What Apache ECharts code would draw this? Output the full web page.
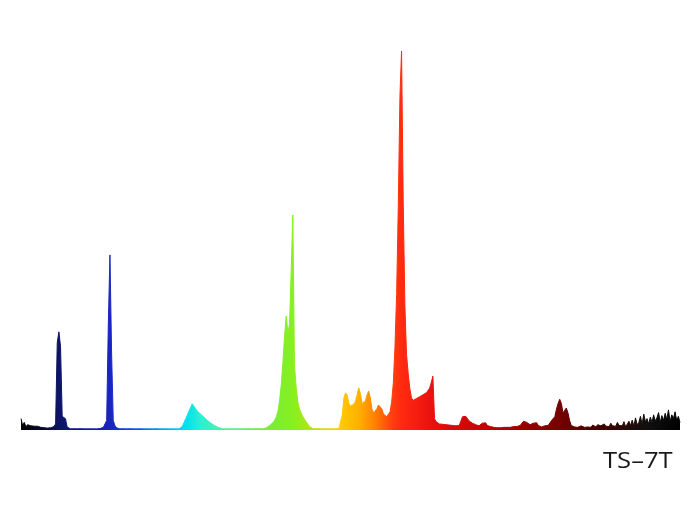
<!DOCTYPE html>
<html><head><meta charset="utf-8">
<script src="https://cdn.jsdelivr.net/npm/echarts@6/dist/echarts.min.js"></script>
<style>html,body{margin:0;padding:0;background:#fff}#c{width:700px;height:525px}</style>
</head><body><div id="c"></div>
<script>
// Wavelength range (nm), 1 nm step
const startNm = 380;
const endNm = 780;
// Relative intensity, 380..780 nm (one value per nm)
const intensity = [
/*380*/ 3.0, 1.2, 2.0, 0.8, 1.4, 0.9, 1.1, 0.7, 1.0, 0.6,
/*390*/ 1.0, 0.5, 0.7, 0.5, 0.6, 0.4, 0.5, 0.5, 0.6, 0.8,
/*400*/ 0.9, 1.6, 23.0, 25.9, 22.0, 3.6, 3.4, 3.0, 0.8, 0.4,
/*410*/ 0.3, 0.3, 0.35, 0.3, 0.3, 0.3, 0.35, 0.3, 0.3, 0.3,
/*420*/ 0.3, 0.35, 0.3, 0.3, 0.3, 0.3, 0.3, 0.35, 0.4, 0.5,
/*430*/ 0.7, 1.2, 2.5, 28.0, 46.2, 20.0, 2.5, 1.2, 0.6, 0.4,
/*440*/ 0.3, 0.3, 0.35, 0.3, 0.3, 0.3, 0.35, 0.3, 0.3, 0.3,
/*450*/ 0.3, 0.3, 0.35, 0.3, 0.3, 0.3, 0.3, 0.35, 0.3, 0.3,
/*460*/ 0.3, 0.3, 0.35, 0.3, 0.3, 0.3, 0.3, 0.35, 0.3, 0.3,
/*470*/ 0.3, 0.3, 0.3, 0.35, 0.3, 0.3, 0.3, 0.5, 1.0, 2.0,
/*480*/ 3.0, 4.0, 5.0, 6.0, 6.9, 6.5, 5.6, 5.0, 4.6, 4.2,
/*490*/ 3.8, 3.4, 3.0, 2.6, 2.2, 1.9, 1.6, 1.3, 1.0, 0.8,
/*500*/ 0.6, 0.5, 0.4, 0.3, 0.3, 0.3, 0.35, 0.3, 0.3, 0.3,
/*510*/ 0.3, 0.3, 0.35, 0.3, 0.3, 0.3, 0.3, 0.35, 0.3, 0.3,
/*520*/ 0.3, 0.3, 0.3, 0.35, 0.3, 0.3, 0.3, 0.35, 0.4, 0.6,
/*530*/ 0.9, 1.2, 1.5, 2.0, 2.6, 3.5, 5.0, 8.0, 12.0, 18.0,
/*540*/ 25.0, 30.1, 25.6, 28.0, 42.0, 56.7, 17.0, 11.5, 7.5, 5.6,
/*550*/ 4.5, 3.6, 2.9, 2.2, 1.6, 1.0, 0.6, 0.4, 0.3, 0.3,
/*560*/ 0.3, 0.35, 0.3, 0.3, 0.3, 0.3, 0.35, 0.3, 0.3, 0.3,
/*570*/ 0.3, 0.35, 0.3, 0.4, 0.6, 4.0, 8.5, 9.8, 9.2, 7.0,
/*580*/ 6.3, 6.4, 6.8, 7.6, 9.2, 11.1, 9.6, 7.0, 6.8, 7.6,
/*590*/ 9.2, 10.3, 8.5, 5.6, 4.5, 4.8, 5.6, 6.6, 7.1, 5.6,
/*600*/ 4.2, 3.7, 3.5, 3.9, 4.8, 7.5, 12.5, 22.0, 36.0, 59.0,
/*610*/ 88.0, 100, 60.0, 33.0, 20.0, 15.0, 11.0, 8.5, 7.8, 8.0,
/*620*/ 8.3, 8.6, 8.8, 9.0, 9.3, 9.5, 9.8, 10.2, 11.0, 12.5,
/*630*/ 14.2, 3.0, 2.2, 1.8, 1.6, 1.3, 1.5, 1.2, 1.4, 1.1,
/*640*/ 1.3, 1.0, 1.2, 1.0, 1.1, 1.0, 1.2, 1.5, 3.5, 4.0,
/*650*/ 3.6, 3.0, 2.4, 2.0, 1.8, 1.5, 1.4, 1.2, 1.1, 1.3,
/*660*/ 1.8, 2.3, 1.9, 1.2, 1.0, 0.9, 0.8, 0.7, 0.7, 0.6,
/*670*/ 0.7, 0.6, 0.6, 0.7, 0.6, 0.7, 0.8, 0.7, 0.8, 0.9,
/*680*/ 0.8, 0.9, 1.0, 1.2, 1.5, 2.3, 2.5, 2.0, 1.6, 1.4,
/*690*/ 1.5, 1.8, 2.1, 1.9, 1.2, 0.9, 0.8, 0.9, 1.1, 1.0,
/*700*/ 1.2, 1.5, 2.5, 3.0, 3.5, 5.5, 7.0, 8.1, 7.0, 4.5,
/*710*/ 5.0, 5.8, 4.5, 2.5, 1.2, 0.9, 0.8, 1.0, 0.7, 0.9,
/*720*/ 1.1, 0.8, 0.7, 1.2, 0.8, 1.0, 0.7, 1.3, 0.9, 0.8,
/*730*/ 1.4, 0.9, 1.1, 0.8, 1.6, 1.0, 1.2, 0.9, 1.8, 1.1,
/*740*/ 1.5, 1.0, 2.0, 1.2, 1.6, 1.1, 2.2, 0.8, 0.6, 2.3,
/*750*/ 1.2, 2.6, 1.0, 3.2, 1.4, 2.0, 3.6, 1.5, 4.2, 2.2,
/*760*/ 3.0, 1.6, 3.4, 2.0, 4.0, 2.4, 3.2, 4.6, 2.0, 3.8,
/*770*/ 2.5, 4.4, 2.8, 5.3, 2.2, 4.0, 3.0, 4.8, 2.5, 3.6,
/*780*/ 2.0
];
// Spectral colour stops (wavelength nm -> colour)
const colorNm = [380, 396, 403, 420, 434, 450, 465, 480, 490, 505, 525, 545, 560, 572, 585, 595, 605, 611, 630, 650, 680, 705, 730, 760, 780];
const colorHex = ['#000000','#0a0a30','#0d1466','#101a90','#1a24c0','#1050e0','#00a0f0','#00e0f0','#30f0d0','#50f0a0','#70ec40','#88f020','#c0e010','#ffd000','#ffb000','#ff8000','#ff4010','#ff2a10','#e81010','#d00808','#a00000','#7a0000','#400000','#101010','#000000'];
const label = 'TS–7T';

const wavelengths = [];
for (let w = startNm; w <= endNm; w++) wavelengths.push(w);
const seriesData = wavelengths.map((w, i) => [w, intensity[i]]);
const stops = colorNm.map((w, i) => ({ offset: (w - startNm) / (endNm - startNm), color: colorHex[i] }));
const grad = () => new echarts.graphic.LinearGradient(0, 0, 1, 0, stops);

const chart = echarts.init(document.getElementById('c'), null, { renderer: 'canvas' });
chart.setOption({
  animation: false,
  backgroundColor: '#ffffff',
  grid: { left: 21, right: 20, top: 51, bottom: 95 },
  xAxis: { type: 'value', min: startNm, max: endNm, show: false },
  yAxis: { type: 'value', min: 0, max: 100, show: false },
  series: [{
    type: 'line',
    data: seriesData,
    showSymbol: false,
    symbol: 'none',
    lineStyle: { width: 1, color: grad() },
    areaStyle: { color: grad(), opacity: 1 }
  }],
  graphic: [{
    type: 'text',
    x: 603, y: 462,
    scaleX: 1.22,
    style: { text: label, fill: '#1a1a1a', font: '21px "Open Sans"', align: 'left', verticalAlign: 'middle' }
  }]
});
</script></body></html>
